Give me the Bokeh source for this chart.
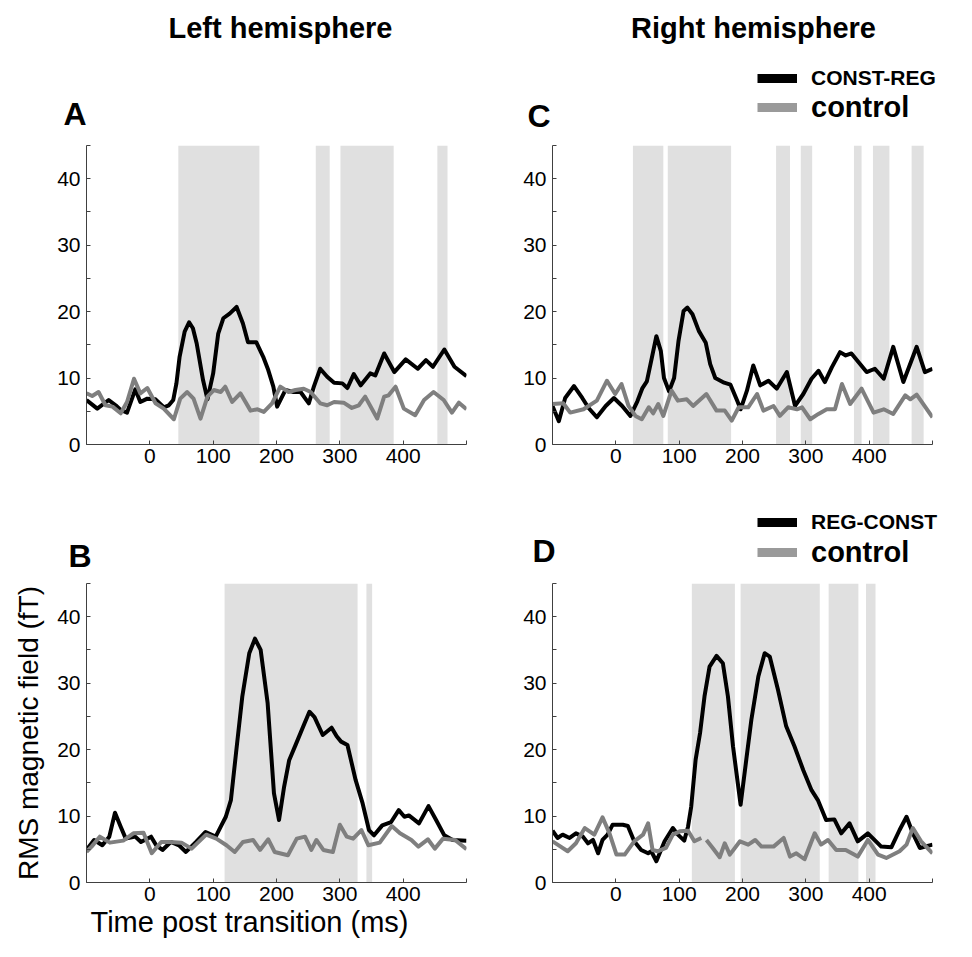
import math
from bokeh.plotting import figure
from bokeh.layouts import column, row
from bokeh.models import (Range1d, FixedTicker, Label, Legend, LegendItem, Title)
from bokeh.core.properties import value
from bokeh.embed import file_html
from bokeh.resources import INLINE

NAN = float("nan")

# ---------------- data ----------------
x_ticks = [-100, 0, 100, 200, 300, 400, 500]
y_ticks = [0, 5, 10, 15, 20, 25, 30, 35, 40, 45]

# Panel A (left hemisphere, CONST-REG)
A_black_t = [-100, -83, -65, -54, -46, -36, -23, -15, -4, 9, 22, 30, 37, 42, 47, 55, 62, 68, 74, 84,
             91, 100, 108, 116, 126, 137, 147, 155, 168, 179, 187, 195, 201, 214, 227, 238, 251, 259, 269, 280,
             291, 304, 312, 322, 333, 348, 356, 370, 386, 404, 423, 436, 447, 465, 481, 500]
A_black_v = [6.7, 5.4, 6.7, 5.9, 5.2, 4.8, 8.3, 6.4, 6.9, 6.8, 5.6, 5.9, 6.7, 9.2, 13.2, 17.0, 18.4, 17.5, 15.2, 9.7,
             6.8, 10.7, 16.7, 19.0, 19.7, 20.7, 18.2, 15.4, 15.4, 13.2, 11.2, 8.7, 5.7, 8.2, 7.9, 7.9, 6.2, 8.7, 11.4, 10.2,
             9.3, 9.2, 8.5, 10.6, 8.9, 10.7, 10.4, 13.7, 10.9, 12.8, 11.4, 12.7, 11.7, 14.3, 11.7, 10.3]
A_grey_t = [-100, -91, -81, -70, -59, -46, -36, -25, -15, -4, 9, 22, 38, 48, 59, 69, 80, 91, 101, 112,
            119, 130, 143, 159, 170, 180, 193, 206, 219, 230, 243, 254, 269, 280, 291, 306, 319, 330, 340, 359,
            370, 377, 388, 401, 419, 433, 448, 464, 477, 488, 500]
A_grey_v = [7.7, 7.3, 7.9, 5.9, 5.7, 4.7, 6.4, 9.9, 7.7, 8.5, 6.2, 5.4, 3.8, 6.9, 7.9, 6.9, 3.9, 7.2, 8.2, 7.9,
            8.7, 6.4, 7.7, 5.1, 5.3, 4.9, 6.2, 8.7, 7.9, 8.2, 8.4, 7.9, 6.2, 5.9, 6.4, 6.3, 5.5, 5.9, 7.2, 3.9,
            7.2, 7.4, 8.7, 5.4, 4.4, 6.7, 7.9, 6.7, 4.8, 6.3, 5.3]
A_sig_start = [45, 262, 301, 454]
A_sig_end = [173, 284, 385, 470]

# Panel C (right hemisphere, CONST-REG)
C_black_t = [-100, -90, -80, -66, -53, -43, -30, -16, -3, 10, 23, 34, 42, 49, 57, 64, 71, 76, 84, 92,
             99, 107, 113, 121, 131, 142, 149, 157, 171, 181, 192, 197, 207, 217, 228, 241, 254, 270, 283, 296,
             309, 320, 330, 341, 354, 363, 372, 396, 409, 423, 438, 454, 475, 488, 500]
C_black_v = [5.8, 3.5, 7.0, 8.8, 7.0, 5.5, 4.1, 5.8, 7.0, 5.8, 4.3, 6.5, 8.5, 9.5, 13.1, 16.3, 14.1, 10.0, 8.0, 10.0,
             15.6, 20.1, 20.6, 19.6, 17.1, 15.3, 12.1, 10.0, 9.3, 9.0, 6.5, 5.3, 8.1, 11.9, 8.9, 9.6, 8.4, 10.9, 5.8, 7.6,
             9.9, 11.1, 9.4, 11.6, 13.9, 13.4, 13.7, 10.9, 11.4, 9.9, 14.7, 9.4, 14.7, 10.9, 11.4]
C_grey_t = [-100, -83, -72, -51, -30, -14, -1, 9, 20, 31, 41, 52, 59, 67, 75, 88, 98, 112, 122, 143,
            159, 172, 183, 194, 209, 223, 233, 249, 259, 272, 286, 294, 307, 320, 333, 346, 357, 370, 388, 407,
            423, 438, 457, 465, 475, 500]
C_grey_v = [6.1, 6.2, 4.8, 5.3, 6.6, 9.6, 7.6, 9.1, 5.8, 4.3, 3.8, 5.6, 4.7, 6.1, 4.3, 8.1, 6.6, 6.8, 5.8, 7.6,
            5.1, 5.1, 3.6, 5.6, 5.6, 7.6, 5.1, 5.8, 4.3, 5.6, 5.3, 5.6, 3.8, 4.6, 5.3, 5.3, 9.1, 6.1, 8.4, 4.8,
            5.3, 4.6, 7.4, 6.8, 7.5, 4.1]
C_sig_start = [27, 82, 253, 292, 376, 406, 467]
C_sig_end = [75, 182, 275, 310, 388, 432, 486]

# Panel B (left hemisphere, REG-CONST)
B_black_t = [-100, -88, -75, -64, -55, -46, -38, -23, -14, 2, 10, 20, 33, 46, 57, 73, 88, 104, 112, 120,
             128, 136, 146, 157, 166, 175, 186, 196, 204, 212, 220, 231, 244, 252, 260, 273, 287, 295, 302, 312,
             325, 336, 346, 354, 367, 381, 393, 402, 409, 425, 440, 452, 465, 478, 500]
B_black_v = [4.9, 6.4, 5.6, 6.9, 10.5, 8.4, 6.6, 6.9, 6.1, 6.9, 5.6, 4.9, 6.1, 5.6, 4.6, 6.1, 7.6, 6.9, 8.4, 9.9,
             12.4, 19.4, 28.0, 34.5, 36.7, 35.0, 27.0, 13.4, 9.4, 14.4, 18.4, 20.9, 23.9, 25.7, 24.9, 22.2, 23.3, 22.0, 21.2, 20.7,
             15.4, 11.9, 7.9, 7.1, 8.6, 9.1, 10.9, 9.9, 10.1, 8.9, 11.5, 9.4, 7.1, 6.4, 6.3]
B_grey_t = [-100, -92, -79, -63, -42, -26, -10, 3, 18, 32, 50, 66, 89, 105, 121, 134, 147, 163, 174, 187,
            197, 218, 232, 245, 255, 263, 274, 289, 300, 311, 321, 334, 345, 363, 382, 395, 413, 424, 439, 450,
            463, 482, 500]
B_grey_v = [4.6, 5.4, 6.9, 6.0, 6.3, 7.4, 7.5, 4.4, 6.1, 6.1, 6.0, 5.1, 7.2, 6.6, 5.6, 4.6, 6.1, 6.4, 4.9, 6.5,
            4.6, 4.1, 6.6, 6.9, 4.9, 6.4, 4.9, 4.6, 8.7, 6.9, 6.6, 7.9, 5.6, 6.0, 8.5, 7.4, 6.4, 5.4, 6.5, 5.1,
            6.6, 6.4, 5.0]
B_sig_start = [118, 342]
B_sig_end = [328, 351]

# Panel D (right hemisphere, REG-CONST)
D_black_t = [-100, -92, -84, -73, -63, -52, -44, -36, -28, -21, -13, -5, 11, 19, 29, 40, 51, 56, 64, 77,
             90, 98, 108, 114, 119, 126, 133, 140, 148, 159, 169, 177, 185, 197, 206, 214, 225, 235, 243, 256,
             269, 282, 296, 309, 319, 332, 345, 356, 369, 382, 398, 419, 435, 448, 459, 469, 480, 500]
D_black_v = [7.8, 6.7, 7.2, 6.7, 7.4, 6.9, 5.9, 6.4, 4.4, 6.4, 7.2, 8.7, 8.7, 8.5, 6.2, 4.9, 4.4, 4.7, 3.2, 6.2,
             8.2, 7.2, 6.3, 8.4, 11.4, 18.5, 22.5, 28.0, 32.5, 34.1, 33.0, 28.0, 20.5, 11.7, 18.5, 24.5, 31.0, 34.5, 34.0, 29.0,
             23.5, 20.5, 16.9, 13.9, 12.4, 9.4, 9.5, 7.4, 8.9, 6.2, 7.4, 5.4, 5.3, 7.9, 9.9, 7.4, 5.2, 5.7]
D_grey_t = [-100, -76, -63, -49, -34, -21, -10, 1, 14, 29, 43, 51, 58, 66, 79, 90, 101, 114, 124, 135,
            139, 143, 153, 164, 172, 180, 196, 209, 220, 230, 249, 265, 275, 285, 298, 314, 324, 335, 348, 363,
            382, 398, 414, 427, 448, 459, 469, 482, 500]
D_grey_v = [6.2, 4.7, 5.9, 8.2, 7.2, 9.8, 7.4, 4.2, 4.2, 6.2, 7.2, 8.9, 4.9, 4.7, 5.2, 7.2, 7.7, 7.8, 6.2, 6.7,
            NAN, 6.4, 5.2, 3.8, 5.9, 4.2, 6.2, 5.7, 6.4, 5.4, 5.4, 6.7, 3.9, 4.4, 3.5, 7.4, 5.7, 6.4, 4.9, 4.9,
            3.9, 6.4, 4.2, 3.7, 4.7, 5.7, 8.2, 6.2, 4.4]
D_sig_start = [120, 197, 336, 395]
D_sig_end = [188, 322, 383, 410]

# ---------------- styling / layout ----------------
FONT = "Liberation Sans"
BLACK = "#000000"
GREY = "#7f7f7f"
LEG_GREY = "#9a9a9a"
SHADE = "#e0e0e0"
AXIS = "#404040"
XMIN, XMAX, YMIN, YMAX = -100, 500, 0, 45
PAGE_W = 966


def make_panel(width, height, bl, br, bt, bb, black_t, black_v, grey_t, grey_v, s0, s1):
    p = figure(width=width, height=height, x_range=Range1d(XMIN, XMAX), y_range=Range1d(YMIN, YMAX),
               output_backend="svg", toolbar_location=None,
               min_border_left=bl, min_border_right=br, min_border_top=bt, min_border_bottom=bb)
    p.outline_line_color = None
    p.xgrid.visible = False
    p.ygrid.visible = False
    for ax in (p.xaxis[0], p.yaxis[0]):
        ax.axis_line_color = AXIS
        ax.axis_line_width = 1
        ax.major_tick_line_color = AXIS
        ax.major_tick_in = 4
        ax.major_tick_out = 0
        ax.minor_tick_line_color = None
        ax.major_label_text_font = FONT
        ax.major_label_text_font_size = "21px"
        ax.major_label_text_color = "black"
    p.xaxis.ticker = FixedTicker(ticks=x_ticks)
    p.xaxis.major_label_overrides = {-100: "", 500: ""}
    p.xaxis.major_label_standoff = 4
    p.yaxis.ticker = FixedTicker(ticks=y_ticks)
    p.yaxis.major_label_overrides = {t: "" for t in y_ticks if t % 10 != 0}
    p.yaxis.major_label_standoff = 6

    p.quad(left=s0, right=s1, bottom=[YMIN] * len(s0), top=[YMAX] * len(s0),
           fill_color=SHADE, line_color=None)
    p.line(black_t, black_v, line_color=BLACK, line_width=4, line_join="round")
    p.line(grey_t, grey_v, line_color=GREY, line_width=4, line_join="round")
    return p


# header strips: their frames fill the whole strip, with page pixel coordinates as ranges
def make_header(top, bottom):
    h = figure(width=PAGE_W, height=bottom - top, x_range=Range1d(0, PAGE_W), y_range=Range1d(bottom, top),
               x_axis_type=None, y_axis_type=None, output_backend="svg", toolbar_location=None,
               min_border=0)
    h.outline_line_color = None
    h.grid.visible = False
    return h


def add_text(h, px, baseline, text, size_px, bold=False, align="left"):
    # Bokeh's alphabetic baseline lands ~0.37em lower than the nominal baseline: compensate
    h.add_layout(Label(x=px, y=baseline - 0.37 * size_px, text=text, text_font=FONT,
                       text_font_size=f"{size_px}px",
                       text_font_style="bold" if bold else "normal", text_color="black",
                       text_align=align, text_baseline="alphabetic"))


def add_legend(h, strip_bottom, label, color, bar_left, bar_center, size):
    r = h.line(x=[NAN], y=[NAN], line_color=color, line_width=9)
    leg = Legend(items=[LegendItem(label=value(label), renderers=[r])],
                 location=(bar_left, strip_bottom - bar_center - 17),
                 label_text_font=FONT, label_text_font_size=size, label_text_font_style="bold",
                 label_text_color="black",
                 glyph_width=40, glyph_height=34, label_height=34, label_standoff=14,
                 padding=0, margin=0, spacing=0, border_line_alpha=0, background_fill_alpha=0)
    h.add_layout(leg)


# top header (page y 0..145)
H1 = make_header(0, 145)
add_text(H1, 280, 38, "Left hemisphere", 29, bold=True, align="center")
add_text(H1, 753, 38, "Right hemisphere", 29, bold=True, align="center")
add_text(H1, 63, 125, "A", 32, bold=True)
add_text(H1, 527, 127, "C", 32, bold=True)
add_legend(H1, 145, "CONST-REG", BLACK, 757, 78, "21px")
add_legend(H1, 145, "control", LEG_GREY, 757, 107, "29px")

# top panels (frames at page y 145..444)
pA = make_panel(486, 335, 86, 20, 0, 36, A_black_t, A_black_v, A_grey_t, A_grey_v, A_sig_start, A_sig_end)
pC = make_panel(480, 335, 66, 34, 0, 36, C_black_t, C_black_v, C_grey_t, C_grey_v, C_sig_start, C_sig_end)

# middle header (page y 480..573)
H2 = make_header(480, 573)
add_text(H2, 68, 567, "B", 32, bold=True)
add_text(H2, 532, 562, "D", 32, bold=True)
add_legend(H2, 573, "REG-CONST", BLACK, 757, 522, "21px")
add_legend(H2, 573, "control", LEG_GREY, 757, 552, "29px")

# bottom panels (frames at page y 583..882)
pB = make_panel(486, 379, 86, 20, 10, 70, B_black_t, B_black_v, B_grey_t, B_grey_v, B_sig_start, B_sig_end)
pD = make_panel(480, 379, 66, 34, 10, 70, D_black_t, D_black_v, D_grey_t, D_grey_v, D_sig_start, D_sig_end)

pB.yaxis.axis_label = "RMS magnetic field (fT)"
pB.yaxis.axis_label_text_font = FONT
pB.yaxis.axis_label_text_font_size = "28px"
pB.yaxis.axis_label_text_font_style = "normal"
pB.yaxis.axis_label_text_color = "black"
pB.yaxis.axis_label_standoff = 10

pB.add_layout(Title(text="Time post transition (ms)", align="left", offset=4, standoff=0,
                    text_font=FONT, text_font_size="29px", text_font_style="normal",
                    text_color="black"), "below")

layout = column(H1, row(pA, pC), H2, row(pB, pD))
open("out.html", "w").write(file_html(layout, INLINE))
